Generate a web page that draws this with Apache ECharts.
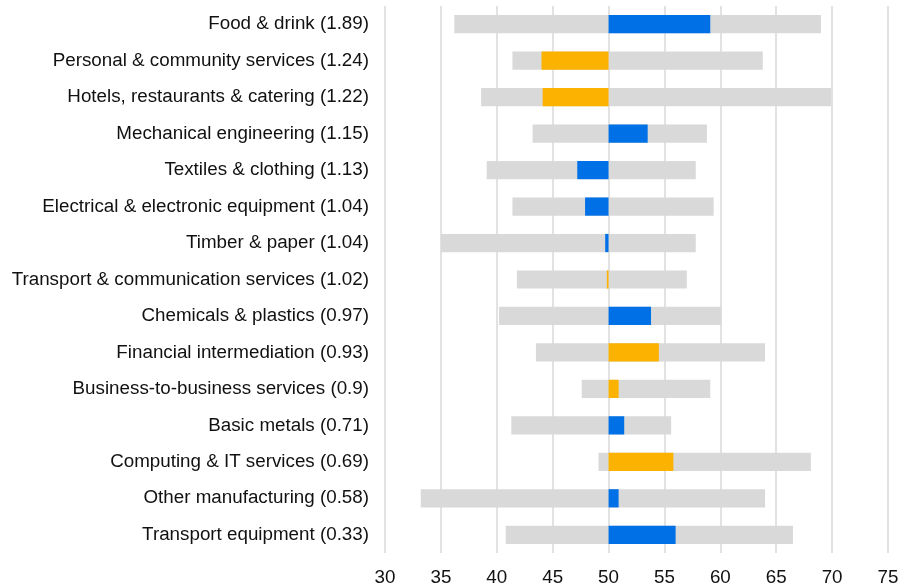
<!DOCTYPE html>
<html>
<head>
<meta charset="utf-8">
<script src="https://cdn.jsdelivr.net/npm/echarts@6/dist/echarts.min.js"></script>
<style>
  html, body { margin: 0; padding: 0; background: #fff; }
  #chart { width: 914px; height: 587px; }
</style>
</head>
<body>
<div id="chart"></div>
<script>
// categories, top to bottom
var categories = [
  "Food & drink (1.89)",
  "Personal & community services (1.24)",
  "Hotels, restaurants & catering (1.22)",
  "Mechanical engineering (1.15)",
  "Textiles & clothing (1.13)",
  "Electrical & electronic equipment (1.04)",
  "Timber & paper (1.04)",
  "Transport & communication services (1.02)",
  "Chemicals & plastics (0.97)",
  "Financial intermediation (0.93)",
  "Business-to-business services (0.9)",
  "Basic metals (0.71)",
  "Computing & IT services (0.69)",
  "Other manufacturing (0.58)",
  "Transport equipment (0.33)"
];
// range (grey bar)
var rangeLow  = [36.2, 41.4, 38.6, 43.2, 39.1, 41.4, 35.0, 41.8, 40.2, 43.5, 47.6, 41.3, 49.1, 33.2, 40.8];
var rangeHigh = [69.0, 63.8, 69.9, 58.8, 57.8, 59.4, 57.8, 57.0, 60.1, 64.0, 59.1, 55.6, 68.1, 64.0, 66.5];
// value (coloured bar drawn from the 50 line)
var values    = [59.1, 44.0, 44.1, 53.5, 47.2, 47.9, 49.7, 49.85, 53.8, 54.5, 50.9, 51.4, 55.8, 50.9, 56.0];
// 1 = services (orange), 0 = manufacturing (blue)
var services  = [0, 1, 1, 0, 0, 0, 0, 1, 0, 1, 1, 0, 1, 0, 0];
var xTicks = { min: 30, max: 75, interval: 5 };
var baseline = 50;

var blue = "#0070e6";
var orange = "#fbb200";
var grey = "#d9d9d9";

var myChart = echarts.init(document.getElementById("chart"));

var colorBase = values.map(function (v) { return Math.min(v, baseline); });
var colorDelta = values.map(function (v, i) {
  return {
    value: Math.abs(v - baseline),
    itemStyle: { color: services[i] ? orange : blue }
  };
});

myChart.setOption({
  animation: false,
  grid: { left: 385, right: 26, top: 6, bottom: 34, containLabel: false },
  xAxis: {
    type: "value",
    min: xTicks.min,
    max: xTicks.max,
    interval: xTicks.interval,
    axisLine: { show: false },
    axisTick: { show: false },
    splitLine: { show: true, lineStyle: { color: "#d9d9d9", width: 1.5 } },
    axisLabel: {
      color: "#111",
      fontSize: 18.8,
      fontFamily: "Liberation Sans, Arial, sans-serif",
      margin: 15
    }
  },
  yAxis: {
    type: "category",
    data: categories,
    inverse: true,
    axisLine: { show: false },
    axisTick: { show: false },
    splitLine: { show: false },
    axisLabel: {
      color: "#111",
      fontSize: 18.8,
      fontFamily: "Liberation Sans, Arial, sans-serif",
      margin: 16
    }
  },
  series: [
    {
      type: "bar",
      stack: "range",
      barWidth: "50%",
      silent: true,
      itemStyle: { color: "transparent" },
      data: rangeLow
    },
    {
      type: "bar",
      stack: "range",
      barWidth: "50%",
      itemStyle: { color: grey },
      data: rangeHigh.map(function (h, i) { return h - rangeLow[i]; })
    },
    {
      type: "bar",
      stack: "val",
      barWidth: "50%",
      barGap: "-100%",
      silent: true,
      itemStyle: { color: "transparent" },
      data: colorBase
    },
    {
      type: "bar",
      stack: "val",
      barWidth: "50%",
      barGap: "-100%",
      data: colorDelta
    }
  ]
});
</script>
</body>
</html>
